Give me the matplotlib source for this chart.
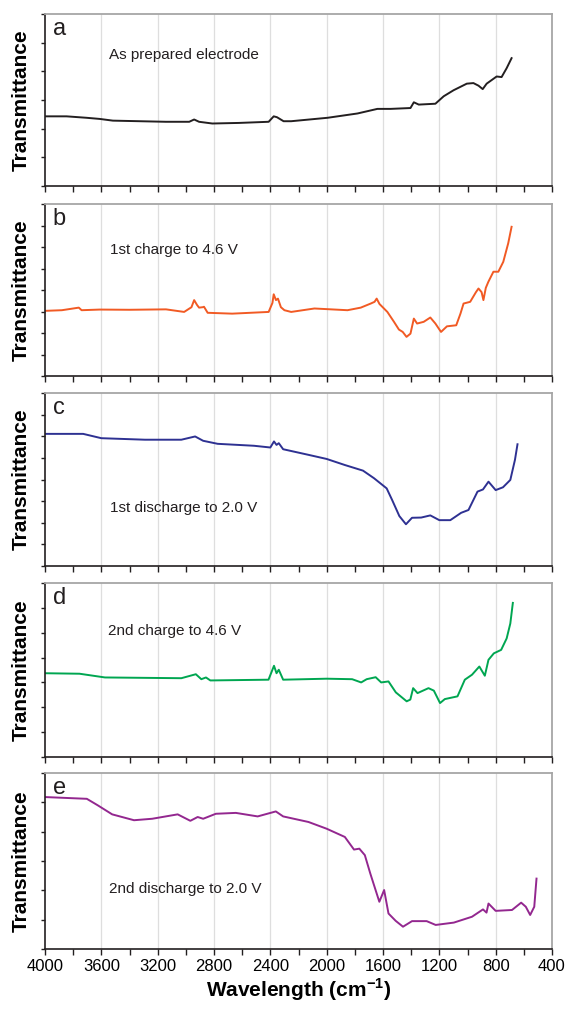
#Stacked FTIR spectra of the electrode at different states
import matplotlib.pyplot as plt
from matplotlib.ticker import MultipleLocator

plt.rcParams['font.family'] = ['Liberation Sans', 'DejaVu Sans']
plt.rcParams['mathtext.fontset'] = 'custom'
plt.rcParams['mathtext.rm'] = 'Liberation Sans'
plt.rcParams['mathtext.bf'] = 'Liberation Sans:bold'

#%%
#Data (wavenumber in cm-1, transmittance in tick units)
wn_a = [4000, 3847, 3706, 3612, 3518, 3329, 3141, 2976, 2941, 2906, 2812, 2624,
        2412, 2376, 2353, 2306, 2252, 1993, 1781, 1640, 1546, 1405, 1381, 1346,
        1228, 1169, 1099, 1005, 958, 922, 892, 864, 793, 758, 722, 687]
t_a = [2.43, 2.43, 2.38, 2.34, 2.28, 2.26, 2.24, 2.24, 2.32, 2.24, 2.18, 2.20,
       2.24, 2.43, 2.40, 2.26, 2.26, 2.38, 2.53, 2.69, 2.69, 2.72, 2.92, 2.84,
       2.87, 3.13, 3.34, 3.57, 3.59, 3.50, 3.38, 3.57, 3.82, 3.80, 4.11, 4.46]

wn_b = [4000, 3880, 3760, 3740, 3612, 3400, 3141, 3012, 2960, 2941, 2920, 2906,
        2880, 2871, 2845, 2671, 2412, 2385, 2376, 2360, 2346, 2325, 2300, 2252,
        2087, 1852, 1758, 1687, 1660, 1645, 1625, 1569, 1522, 1487, 1460, 1433,
        1405, 1381, 1358, 1311, 1264, 1228, 1188, 1146, 1080, 1050, 1028, 981,
        940, 922, 900, 887, 870, 852, 816, 781, 746, 711, 687]
t_b = [3.03, 3.06, 3.18, 3.06, 3.09, 3.08, 3.10, 2.98, 3.20, 3.53, 3.30, 3.18,
       3.20, 3.22, 2.94, 2.90, 2.98, 3.40, 3.80, 3.53, 3.60, 3.20, 3.06, 2.98,
       3.14, 3.06, 3.18, 3.37, 3.45, 3.60, 3.35, 2.98, 2.52, 2.16, 2.05, 1.82,
       1.97, 2.67, 2.44, 2.52, 2.72, 2.44, 2.05, 2.31, 2.36, 2.90, 3.37, 3.45,
       3.90, 4.07, 3.90, 3.53, 4.10, 4.38, 4.85, 4.85, 5.31, 6.17, 6.94]

wn_c = [4000, 3729, 3600, 3290, 3032, 2934, 2877, 2774, 2516, 2400, 2374, 2356,
        2340, 2309, 2129, 2000, 1871, 1742, 1664, 1574, 1535, 1484, 1437, 1394,
        1329, 1264, 1200, 1122, 1045, 993, 929, 890, 851, 800, 748, 696, 663, 645]
t_c = [6.11, 6.11, 5.91, 5.84, 5.84, 5.99, 5.79, 5.65, 5.56, 5.48, 5.76, 5.60,
       5.68, 5.40, 5.14, 4.95, 4.67, 4.41, 4.06, 3.59, 3.05, 2.31, 1.93, 2.23,
       2.24, 2.34, 2.12, 2.12, 2.46, 2.59, 3.44, 3.54, 3.90, 3.51, 3.64, 3.98,
       4.91, 5.63]

wn_d = [4000, 3755, 3574, 3032, 2929, 2890, 2857, 2826, 2413, 2374, 2356, 2340,
        2309, 2000, 1819, 1755, 1716, 1652, 1613, 1561, 1509, 1432, 1406, 1386,
        1355, 1277, 1239, 1195, 1161, 1071, 1019, 968, 916, 877, 851, 813, 761,
        722, 696, 678]
t_d = [3.37, 3.35, 3.20, 3.17, 3.33, 3.13, 3.20, 3.08, 3.11, 3.67, 3.37, 3.51,
       3.11, 3.15, 3.13, 3.00, 3.13, 3.21, 3.00, 3.04, 2.60, 2.24, 2.31, 2.77,
       2.57, 2.77, 2.67, 2.17, 2.33, 2.44, 3.11, 3.31, 3.64, 3.27, 3.91, 4.17,
       4.31, 4.77, 5.37, 6.20]

wn_e = [4000, 3703, 3626, 3523, 3368, 3239, 3058, 2968, 2916, 2877, 2787, 2645,
        2490, 2361, 2309, 2129, 2000, 1871, 1806, 1768, 1729, 1690, 1626, 1592,
        1561, 1510, 1458, 1394, 1290, 1226, 1097, 968, 890, 865, 851, 800, 684,
        619, 586, 555, 526, 510]
t_e = [5.18, 5.12, 4.90, 4.59, 4.39, 4.44, 4.59, 4.37, 4.50, 4.44, 4.61, 4.64,
       4.52, 4.69, 4.52, 4.33, 4.10, 3.82, 3.39, 3.42, 3.20, 2.57, 1.61, 2.01,
       1.21, 0.96, 0.76, 0.95, 0.95, 0.82, 0.90, 1.10, 1.35, 1.24, 1.55, 1.30,
       1.33, 1.58, 1.44, 1.16, 1.44, 2.40]

letters = ['a', 'b', 'c', 'd', 'e']
notes = ['As prepared electrode', '1st charge to 4.6 V', '1st discharge to 2.0 V',
         '2nd charge to 4.6 V', '2nd discharge to 2.0 V']
note_pos = [(3545, 4.56), (3538, 5.86), (3535, 2.69), (3556, 5.08), (3548, 2.03)]
y_max = [6, 8, 8, 7, 6]
colors = ['#231f20', '#f15a24', '#2e3192', '#00a651', '#93278f']
x_ticks = [4000, 3600, 3200, 2800, 2400, 2000, 1600, 1200, 800, 400]

spectra = [(wn_a, t_a), (wn_b, t_b), (wn_c, t_c), (wn_d, t_d), (wn_e, t_e)]

#%%
#Panel placement in pixels (top, bottom) on a 569x1009 canvas
W, H = 569, 1009
panels_px = [(14, 186), (204, 376), (393, 566), (583, 757), (773, 949)]
left_px, right_px = 45, 552

fig = plt.figure(figsize=(W / 100, H / 100), dpi=100)

for i, (wn, tr) in enumerate(spectra):
    top, bot = panels_px[i]
    ax = fig.add_axes([left_px / W, 1 - bot / H, (right_px - left_px) / W, (bot - top) / H])

    # vertical grid
    for xg in x_ticks[1:-1]:
        ax.axvline(xg, color='#dedede', lw=0.9, zorder=0)

    ax.plot(wn, tr, color=colors[i], lw=1.4, zorder=2)

    ax.set_xlim(4000, 400)
    ax.set_ylim(0, y_max[i])
    ax.xaxis.set_major_locator(MultipleLocator(400))
    ax.xaxis.set_minor_locator(MultipleLocator(200))
    ax.yaxis.set_major_locator(MultipleLocator(1))
    ax.set_yticklabels([])
    ax.tick_params(axis='both', which='both', direction='out', width=1.0, color='#231f20')
    ax.tick_params(axis='x', which='both', length=4.0)
    ax.tick_params(axis='y', length=3.0)
    ax.tick_params(axis='x', labelsize=12, pad=3)

    for s in ['top', 'right']:
        ax.spines[s].set_color('#a6a6a6')
        ax.spines[s].set_linewidth(1.3)
    for s in ['left', 'bottom']:
        ax.spines[s].set_color('#231f20')
        ax.spines[s].set_linewidth(1.2)

    if i < 4:
        ax.set_xticklabels([])
    else:
        ax.set_xlabel(r'Wavelength (cm$^{\mathbf{-1}}$)', fontsize=15, fontweight='bold', labelpad=2)

    ax.set_ylabel('Transmittance', fontsize=15, fontweight='bold')
    ax.yaxis.set_label_coords(-0.028, 0.5)

    # panel letter and annotation
    ax.text(0.015, 0.975, letters[i], transform=ax.transAxes, fontsize=17,
            ha='left', va='top', color='#231f20')
    ax.text(note_pos[i][0], note_pos[i][1], notes[i], fontsize=11,
            ha='left', va='center', color='#231f20')

fig.savefig('out.png', dpi=100)
